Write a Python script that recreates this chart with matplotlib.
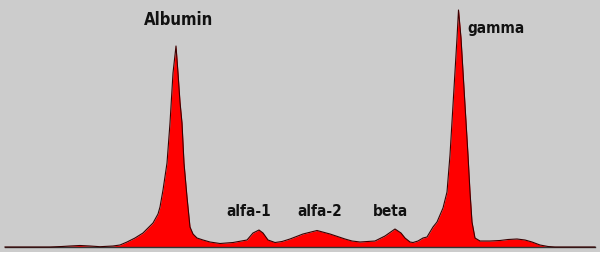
from matplotlib import pyplot as plt

# positions along the strip and the density height
positions = [5, 50, 62, 70, 80, 90, 100, 113, 120, 127, 135, 143, 153, 158, 160, 163, 167, 170, 173, 176,
             178, 180, 182, 184, 187, 190, 193, 197, 203, 210, 220, 233, 247, 253, 259, 263, 268, 275, 282,
             290, 303, 317, 330, 345, 352, 360, 375, 385, 395, 401, 405, 410, 413, 418, 423, 427, 430, 433,
             437, 443, 447, 450, 453, 457, 458.5, 461, 465, 468, 470, 472, 475, 480, 490, 500, 508, 517, 525,
             532, 540, 548, 555, 595]
density = [0, 0, 0.5, 1, 1.5, 1, 0.3, 1, 2, 5, 9, 14, 24, 33, 40, 57, 84, 124, 174, 201,
           174, 145, 124, 84, 50, 20, 13, 9, 7, 5, 3.5, 4.5, 7, 14, 17, 14, 7, 4.5, 5.5,
           8, 13, 16.5, 13, 8, 6, 5, 6, 11, 18, 14, 9, 5, 4.5, 6, 9, 10, 15, 20,
           25, 39, 55, 92, 142, 209, 237, 209, 142, 92, 55, 25, 9, 6, 6, 6.5, 7.5, 8, 7,
           5, 2, 0.5, 0, 0]

# fraction labels and where they sit
labels = ["Albumin", "alfa-1", "alfa-2", "beta", "gamma"]
label_x = [178.5, 249, 319.5, 391, 467]
label_y = [222, 31, 31, 31, 214]
label_ha = ["center", "center", "center", "center", "left"]
label_size = [12, 11, 11, 11, 11]

fig = plt.figure(figsize=(6, 2.65), dpi=100, facecolor="white")
ax = fig.add_axes([0, 13 / 265, 1, 252 / 265])
ax.set_facecolor("#cccccc")

# baseline and the filled curve
ax.plot([positions[0], positions[-1]], [0, 0], color="#333333", lw=1)
ax.fill_between(positions, density, 0, color="#ff0000", lw=0)
ax.plot(positions, density, color="#3a0000", lw=0.8)

for text, x, y, ha, size in zip(labels, label_x, label_y, label_ha, label_size):
    ax.text(x, y, text, ha=ha, va="baseline", fontsize=size, fontweight="bold",
            fontstretch="condensed", color="#111111")

ax.set_xlim(0, 600)
ax.set_ylim(-5, 247)

# keep the grey panel but drop ticks and frame
ax.set_xticks([])
ax.set_yticks([])
for spine in ax.spines.values():
    spine.set_visible(False)

fig.savefig("out.png", dpi=100, facecolor="white")
